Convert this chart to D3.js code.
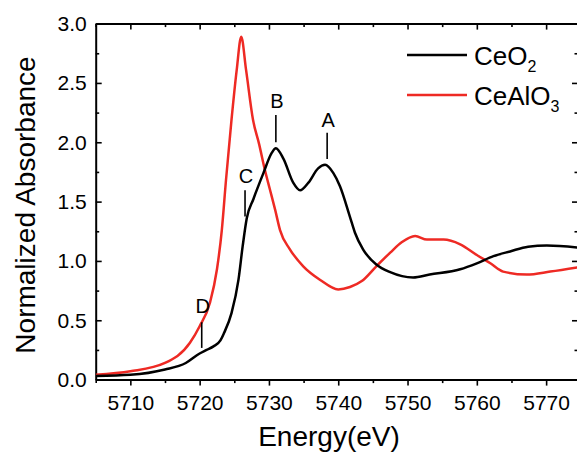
<!DOCTYPE html>
<html>
<head>
<meta charset="utf-8">
<script src="https://cdn.jsdelivr.net/npm/d3@7"></script>
<style>
  body { margin: 0; background: #fff; }
  svg { display: block; font-family: "Liberation Sans", Arial, sans-serif; }
  .domain { stroke-width: 2px; }
  .tick line { stroke-width: 1.6px; }
</style>
</head>
<body>
<svg id="chart" width="577" height="452"></svg>
<script>
// CeO2 spectrum
const ceo2Energy = [5705, 5710, 5715, 5718, 5720, 5721, 5722, 5723, 5723.5, 5724.6, 5725.6, 5726.2, 5726.8, 5727.75, 5729.2, 5730.4, 5731, 5732.1, 5733.5, 5734.5, 5735.7, 5737.1, 5738.1, 5739.3, 5740.25, 5741.7, 5742.4, 5743.6, 5745.5, 5747.5, 5750.8, 5753.2, 5757.6, 5760, 5762.4, 5764.8, 5767.4, 5770.1, 5775];
const ceo2Abs = [0.03, 0.04, 0.085, 0.14, 0.22, 0.25, 0.28, 0.33, 0.39, 0.56, 0.84, 1.12, 1.36, 1.52, 1.74, 1.91, 1.95, 1.86, 1.66, 1.595, 1.66, 1.78, 1.81, 1.74, 1.63, 1.37, 1.24, 1.095, 0.97, 0.905, 0.86, 0.885, 0.93, 0.98, 1.04, 1.08, 1.12, 1.13, 1.11];

// CeAlO3 spectrum
const cealo3Energy = [5705, 5710, 5715, 5718.6, 5720, 5721.5, 5722.5, 5723.2, 5723.8, 5724.6, 5725.35, 5726, 5726.7, 5727.7, 5728.6, 5729.4, 5730.15, 5730.9, 5731.6, 5733, 5734.95, 5737.4, 5740, 5741.7, 5743.4, 5745.5, 5747.5, 5749.15, 5751.1, 5752.8, 5755.2, 5757.6, 5760, 5761.95, 5763.8, 5767.2, 5770.6, 5775];
const cealo3Abs = [0.04, 0.07, 0.14, 0.31, 0.45, 0.65, 0.93, 1.26, 1.68, 2.19, 2.61, 2.89, 2.61, 2.19, 1.98, 1.77, 1.60, 1.43, 1.26, 1.10, 0.955, 0.84, 0.76, 0.78, 0.83, 0.955, 1.07, 1.157, 1.21, 1.18, 1.18, 1.14, 1.05, 0.98, 0.91, 0.885, 0.91, 0.95];

// peak markers: label, energy, top/bottom of the marker line, label baseline
const peakLabels = ["A", "B", "C", "D"];
const peakEnergy = [5738.4, 5731.0, 5726.55, 5720.3];
const peakTop = [2.08, 2.23, 1.595, 0.483];
const peakBottom = [1.86, 2.0, 1.375, 0.267];
const peakText = [2.13, 2.29, 1.66, 0.565];

const xTicks = [5710, 5720, 5730, 5740, 5750, 5760, 5770];
const yTicks = [0, 0.5, 1.0, 1.5, 2.0, 2.5, 3.0];

const svg = d3.select("#chart");
const x = d3.scaleLinear().domain([5705, 5774.6]).range([95.7, 578]);
const y = d3.scaleLinear().domain([0, 3]).range([379.6, 23.6]);

const xMinor = d3.range(5705, 5776, 10);
const yMinor = d3.range(0.25, 3, 0.5);

// bottom axis: ticks outward
svg.append("g").attr("transform", `translate(0,${y(0)})`)
  .call(d3.axisBottom(x).tickValues(xTicks).tickFormat(d3.format("d")).tickSizeInner(6).tickSizeOuter(0).tickPadding(9))
  .call(g => g.selectAll("text").attr("font-size", 21).attr("font-family", "Liberation Sans, Arial"));
svg.append("g").attr("transform", `translate(0,${y(0)})`)
  .call(d3.axisBottom(x).tickValues(xMinor).tickFormat("").tickSizeInner(3.5).tickSizeOuter(0))
  .call(g => g.select(".domain").remove());

// top axis: ticks inward
svg.append("g").attr("transform", `translate(0,${y(3)})`)
  .call(d3.axisTop(x).tickValues(xTicks).tickFormat("").tickSizeInner(-6).tickSizeOuter(0));
svg.append("g").attr("transform", `translate(0,${y(3)})`)
  .call(d3.axisTop(x).tickValues(xMinor).tickFormat("").tickSizeInner(-3.5).tickSizeOuter(0))
  .call(g => g.select(".domain").remove());

// left axis: ticks inward
svg.append("g").attr("transform", `translate(${x(5705)},0)`)
  .call(d3.axisLeft(y).tickValues(yTicks).tickFormat(d3.format(".1f")).tickSizeInner(-6).tickSizeOuter(0).tickPadding(9))
  .call(g => g.selectAll("text").attr("font-size", 21).attr("font-family", "Liberation Sans, Arial"));
svg.append("g").attr("transform", `translate(${x(5705)},0)`)
  .call(d3.axisLeft(y).tickValues(yMinor).tickFormat("").tickSizeInner(-3.5).tickSizeOuter(0))
  .call(g => g.select(".domain").remove());

// right axis (mostly off the canvas)
svg.append("g").attr("transform", `translate(${x(5774.6)},0)`)
  .call(d3.axisRight(y).tickValues(yTicks).tickFormat("").tickSizeInner(-6).tickSizeOuter(0));
svg.append("g").attr("transform", `translate(${x(5774.6)},0)`)
  .call(d3.axisRight(y).tickValues(yMinor).tickFormat("").tickSizeInner(-3.5).tickSizeOuter(0))
  .call(g => g.select(".domain").remove());

const line = d3.line()
  .x(d => x(d[0]))
  .y(d => y(d[1]))
  .curve(d3.curveMonotoneX);

svg.append("clipPath").attr("id", "clip")
  .append("rect").attr("x", x(5705)).attr("y", y(3)).attr("width", x(5774.6) - x(5705)).attr("height", y(0) - y(3));

const plot = svg.append("g").attr("clip-path", "url(#clip)");

plot.append("path")
  .datum(d3.zip(cealo3Energy, cealo3Abs))
  .attr("fill", "none").attr("stroke", "#ee2a24").attr("stroke-width", 2.5)
  .attr("stroke-linejoin", "round")
  .attr("d", line);

plot.append("path")
  .datum(d3.zip(ceo2Energy, ceo2Abs))
  .attr("fill", "none").attr("stroke", "#000").attr("stroke-width", 2.5)
  .attr("stroke-linejoin", "round")
  .attr("d", line);

// peak markers
peakLabels.forEach((lab, i) => {
  svg.append("line")
    .attr("x1", x(peakEnergy[i])).attr("x2", x(peakEnergy[i]))
    .attr("y1", y(peakTop[i])).attr("y2", y(peakBottom[i]))
    .attr("stroke", "#000").attr("stroke-width", 1.6);
  svg.append("text")
    .attr("x", x(peakEnergy[i]) + 1).attr("y", y(peakText[i]))
    .attr("text-anchor", "middle").attr("font-size", 20)
    .text(lab);
});

// legend
const legend = svg.append("g");
const legendItems = [["CeO", "2", "#000"], ["CeAlO", "3", "#ee2a24"]];
legendItems.forEach((it, i) => {
  const ly = 55 + i * 40;
  legend.append("line")
    .attr("x1", 407).attr("x2", 467).attr("y1", ly).attr("y2", ly)
    .attr("stroke", it[2]).attr("stroke-width", 2.5);
  const t = legend.append("text").attr("x", 474).attr("y", ly + 10).attr("font-size", 26);
  t.append("tspan").text(it[0]);
  t.append("tspan").attr("font-size", 16).attr("dy", 7).text(it[1]);
});

// axis titles
svg.append("text")
  .attr("x", 329).attr("y", 446)
  .attr("text-anchor", "middle").attr("font-size", 28)
  .text("Energy(eV)");

svg.append("text")
  .attr("transform", "translate(35,205) rotate(-90)")
  .attr("text-anchor", "middle").attr("font-size", 28)
  .text("Normalized Absorbance");
</script>
</body>
</html>
